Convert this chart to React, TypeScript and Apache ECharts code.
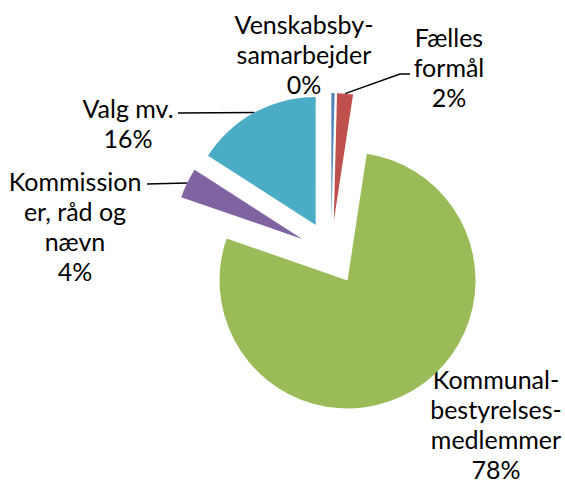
import React, { useEffect, useRef } from 'react';
import * as echarts from 'echarts';

const categories = [
  'Venskabsby-\nsamarbejder',
  'Fælles\nformål',
  'Kommunal-\nbestyrelses-\nmedlemmer',
  'Kommission\ner, råd og\nnævn',
  'Valg mv.',
];
const values = [0.4, 2.0, 77.9, 3.8, 15.9];
const colors = ['#4F81BD', '#C0504D', '#9BBB59', '#8064A2', '#4BACC6'];

// label layout (centres) and leader-line end offsets relative to label centre
const labelCenters = [
  [304, 54],
  [449, 67],
  [496, 424],
  [75, 226],
  [128, 123],
];
const lineEnds: (number[] | null)[] = [null, [-39, 7], null, [72, -42], [50, -10]];
const lineKnee = [0, 10, 0, 0, 0];

const CENTER = [331, 253];
const RADIUS = 128;
const OFFSET = 32;

export default function App() {
  const ref = useRef<HTMLDivElement>(null);
  useEffect(() => {
    document.body.style.margin = '0';
    const chart = echarts.init(ref.current!, null, { renderer: 'svg' });
    chart.setOption({
      animation: false,
      backgroundColor: '#ffffff',
      series: [
        {
          type: 'pie',
          center: CENTER,
          radius: RADIUS,
          startAngle: 90,
          clockwise: true,
          selectedMode: 'multiple',
          selectedOffset: OFFSET,
          silent: true,
          label: { show: false },
          labelLine: { show: false },
          data: values.map((v, i) => ({
            name: categories[i],
            value: v,
            selected: true,
            itemStyle: { color: colors[i] },
          })),
        },
        {
          type: 'pie',
          center: CENTER,
          radius: RADIUS + OFFSET,
          startAngle: 90,
          clockwise: true,
          silent: true,
          avoidLabelOverlap: false,
          itemStyle: { color: 'rgba(0,0,0,0)' },
          label: {
            show: true,
            position: 'outside',
            formatter: (p: any) => `${p.name}\n${Math.round(p.percent)}%`,
            fontFamily: 'Lato',
            fontSize: 25,
            lineHeight: 30,
            color: '#000000',
            align: 'center',
          },
          labelLine: {
            show: true,
            length: 10,
            length2: 0,
            lineStyle: { color: '#000000', width: 1.5 },
          },
          labelLayout: (p: any) => {
            const i = p.dataIndex;
            const c = labelCenters[i];
            const res: any = { x: c[0], y: c[1], align: 'center', verticalAlign: 'middle' };
            const e = lineEnds[i];
            if (e && p.labelLinePoints) {
              const start = p.labelLinePoints[0];
              const end = [c[0] + e[0], c[1] + e[1]];
              const dir = end[0] < start[0] ? -1 : 1;
              const knee = [end[0] - dir * lineKnee[i], end[1]];
              res.labelLinePoints = [start, knee, end];
            }
            return res;
          },
          data: values.map((v, i) => ({
            name: categories[i],
            value: v,
            labelLine: { show: !!lineEnds[i] },
          })),
        },
      ],
    });
    return () => chart.dispose();
  }, []);
  return <div ref={ref} style={{ width: 565, height: 484 }} />;
}
